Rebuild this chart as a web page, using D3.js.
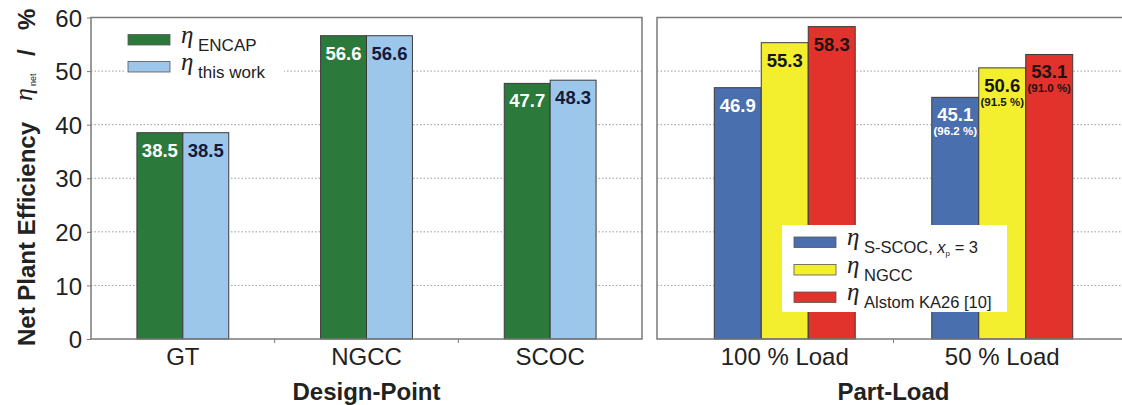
<!DOCTYPE html>
<html>
<head>
<meta charset="utf-8">
<script src="https://cdn.jsdelivr.net/npm/d3@7"></script>
<style>
  html, body { margin: 0; padding: 0; background: #fff; }
  svg { display: block; font-family: "Liberation Sans", Arial, sans-serif; }
</style>
</head>
<body>
<svg id="chart" width="1122" height="405"></svg>
<script>
// Design-point efficiencies
const designCats = ["GT", "NGCC", "SCOC"];
const encapValues = [38.5, 56.6, 47.7];
const thisWorkValues = [38.5, 56.6, 48.3];

// Part-load efficiencies
const loadCats = ["100 % Load", "50 % Load"];
const sScocValues = [46.9, 45.1];
const ngccValues = [55.3, 50.6];
const alstomValues = [58.3, 53.1];
// Part-load efficiency relative to full load, in %
const sScocRel = [null, 96.2];
const ngccRel = [null, 91.5];
const alstomRel = [null, 91.0];

const yTicks = [0, 10, 20, 30, 40, 50, 60];

const COLORS = {
  encap: "#2b7a3b", thisWork: "#9dc7ea",
  sScoc: "#4a6fae", ngcc: "#f3ee2e", alstom: "#e1332b"
};

const svg = d3.select("#chart");
const y = d3.scaleLinear().domain([0, 60]).range([339, 17.5]);

const leftPanel = { x0: 91, x1: 642 };
const rightPanel = { x0: 657, x1: 1132 };

// Dotted grid lines in both panels
const gridG = svg.append("g");
[leftPanel, rightPanel].forEach(p => {
  gridG.selectAll(null)
    .data(yTicks.filter(t => t > 0 && t < 60))
    .enter().append("line")
    .attr("x1", p.x0).attr("x2", p.x1)
    .attr("y1", d => y(d)).attr("y2", d => y(d))
    .attr("stroke", "#9a9a9a").attr("stroke-width", 1)
    .attr("stroke-dasharray", "1.5,2");
});

// Legend background for the design-point panel sits above the grid
svg.append("rect").attr("x", 124).attr("y", 24).attr("width", 160).attr("height", 58).attr("fill", "#fff");

// ---------- Design-point panel ----------
const xDesign = d3.scaleBand().domain(designCats).range([leftPanel.x0, leftPanel.x1]);
const bwD = xDesign.bandwidth();
const xDesignInner = d3.scaleBand().domain(["encap", "thisWork"]).range([bwD * 0.25, bwD * 0.75]);

const designRows = designCats.map((c, i) => ({ cat: c, encap: encapValues[i], thisWork: thisWorkValues[i] }));
const labelFill = { encap: "#ffffff", thisWork: "#15193a", sScoc: "#ffffff", ngcc: "#161616", alstom: "#1e1212" };

function drawBars(rows, xOuter, xInner, keys, rel) {
  const g = svg.append("g");
  rows.forEach((row, i) => {
    keys.forEach(k => {
      const x = xOuter(row.cat) + xInner(k);
      const w = xInner.bandwidth();
      const v = row[k];
      g.append("rect")
        .attr("x", x).attr("y", y(v))
        .attr("width", w).attr("height", y(0) - y(v))
        .attr("fill", COLORS[k])
        .attr("stroke", "#3a3a3a").attr("stroke-width", 1);
      g.append("text")
        .attr("x", x + w / 2).attr("y", y(v) + 24)
        .attr("text-anchor", "middle")
        .attr("font-size", 18.5).attr("font-weight", "bold")
        .attr("fill", labelFill[k])
        .text(v.toFixed(1));
      if (rel && rel[k][i] != null) {
        g.append("text")
          .attr("x", x + w / 2).attr("y", y(v) + 38)
          .attr("text-anchor", "middle")
          .attr("font-size", 11.5).attr("font-weight", "bold")
          .attr("fill", labelFill[k])
          .text("(" + rel[k][i].toFixed(1) + " %)");
      }
    });
  });
}

drawBars(designRows, xDesign, xDesignInner, ["encap", "thisWork"], null);

// ---------- Part-load panel ----------
const xLoad = d3.scaleBand().domain(loadCats).range([676, 1111]);
const bwL = xLoad.bandwidth();
const xLoadInner = d3.scaleBand().domain(["sScoc", "ngcc", "alstom"]).range([bwL * 0.176, bwL * 0.824]);
const loadRows = loadCats.map((c, i) => ({ cat: c, sScoc: sScocValues[i], ngcc: ngccValues[i], alstom: alstomValues[i] }));
drawBars(loadRows, xLoad, xLoadInner, ["sScoc", "ngcc", "alstom"],
  { sScoc: sScocRel, ngcc: ngccRel, alstom: alstomRel });

// ---------- Frames ----------
[leftPanel, rightPanel].forEach(p => {
  svg.append("rect")
    .attr("x", p.x0).attr("y", y(60))
    .attr("width", p.x1 - p.x0).attr("height", y(0) - y(60))
    .attr("fill", "none").attr("stroke", "#7a7a7a").attr("stroke-width", 1.5);
});

// ---------- Axes ----------
const yAxis = d3.axisLeft(y).tickValues(yTicks).tickSize(4).tickPadding(5);
const yG = svg.append("g").attr("transform", `translate(${leftPanel.x0},0)`).call(yAxis);
yG.select(".domain").remove();
yG.selectAll(".tick line").attr("stroke", "#7a7a7a");
yG.selectAll(".tick text")
  .attr("font-size", 24).attr("fill", "#222")
  .attr("font-family", "'Liberation Sans', Arial, sans-serif")
  .attr("dy", "0.36em");

function bottomAxis(xOuter, title, titleX) {
  const g = svg.append("g");
  const dom = xOuter.domain();
  // small separator ticks between categories
  g.selectAll(null).data(dom.slice(1)).enter().append("line")
    .attr("x1", d => xOuter(d)).attr("x2", d => xOuter(d))
    .attr("y1", y(0)).attr("y2", y(0) + 4)
    .attr("stroke", "#7a7a7a").attr("stroke-width", 1);
  g.selectAll(null).data(dom).enter().append("text")
    .attr("x", d => xOuter(d) + xOuter.bandwidth() / 2)
    .attr("y", 365)
    .attr("text-anchor", "middle")
    .attr("font-size", 24).attr("fill", "#222")
    .text(d => d);
  g.append("text")
    .attr("x", titleX).attr("y", 400)
    .attr("text-anchor", "middle")
    .attr("font-size", 24).attr("font-weight", "bold").attr("fill", "#222")
    .text(title);
}
bottomAxis(xDesign, "Design-Point", (leftPanel.x0 + leftPanel.x1) / 2);
bottomAxis(xLoad, "Part-Load", (xLoad.range()[0] + xLoad.range()[1]) / 2);

// ---------- Y axis title ----------
const yt = svg.append("g").attr("transform", "translate(35,346) rotate(-90)");
yt.append("text").attr("x", 0).attr("y", 0)
  .attr("font-size", 24).attr("font-weight", "bold").attr("fill", "#222")
  .text("Net Plant Efficiency");
yt.append("text").attr("x", 245).attr("y", -3)
  .attr("font-size", 26).attr("font-style", "italic")
  .attr("font-family", "'Liberation Serif', 'DejaVu Serif', serif").attr("fill", "#222")
  .text("η");
yt.append("text").attr("x", 260).attr("y", 1)
  .attr("font-size", 9).attr("fill", "#222")
  .text("net");
yt.append("text").attr("x", 290).attr("y", 0)
  .attr("font-size", 24).attr("font-weight", "bold").attr("fill", "#222")
  .text("/");
yt.append("text").attr("x", 316).attr("y", 0)
  .attr("font-size", 24).attr("font-weight", "bold").attr("fill", "#222")
  .text("%");

// ---------- Legends ----------
function legendItem(g, sx, sy, color, etaX, size, parts) {
  g.append("rect").attr("x", sx).attr("y", sy).attr("width", 42).attr("height", 10.5)
    .attr("fill", color).attr("stroke", "#555").attr("stroke-width", 0.8);
  g.append("text").attr("x", etaX).attr("y", sy + 8)
    .attr("font-size", 25).attr("font-style", "italic")
    .attr("font-family", "'Liberation Serif', 'DejaVu Serif', serif").attr("fill", "#222")
    .text("η");
  const t = g.append("text").attr("x", etaX + 17).attr("y", sy + 16)
    .attr("font-size", size).attr("fill", "#222");
  parts.forEach(p => {
    const ts = t.append("tspan").text(p.text);
    if (p.italic) ts.attr("font-style", "italic");
    if (p.sub) ts.attr("font-size", 8).attr("dy", 3);
    if (p.after) ts.attr("dy", -3);
  });
}

const legL = svg.append("g");
legendItem(legL, 128, 34.5, COLORS.encap, 181, 17, [{ text: "ENCAP" }]);
legendItem(legL, 128, 61.5, COLORS.thisWork, 181, 17, [{ text: "this work" }]);

const legR = svg.append("g");
legR.append("rect").attr("x", 782).attr("y", 225).attr("width", 225).attr("height", 87).attr("fill", "#fff");
legendItem(legR, 794, 237, COLORS.sScoc, 847, 16.5,
  [{ text: "S-SCOC, " }, { text: "x", italic: true }, { text: "p", sub: true }, { text: " = 3", after: true }]);
legendItem(legR, 794, 264.5, COLORS.ngcc, 847, 16.5, [{ text: "NGCC" }]);
legendItem(legR, 794, 292, COLORS.alstom, 847, 16.5, [{ text: "Alstom KA26 [10]" }]);
</script>
</body>
</html>
